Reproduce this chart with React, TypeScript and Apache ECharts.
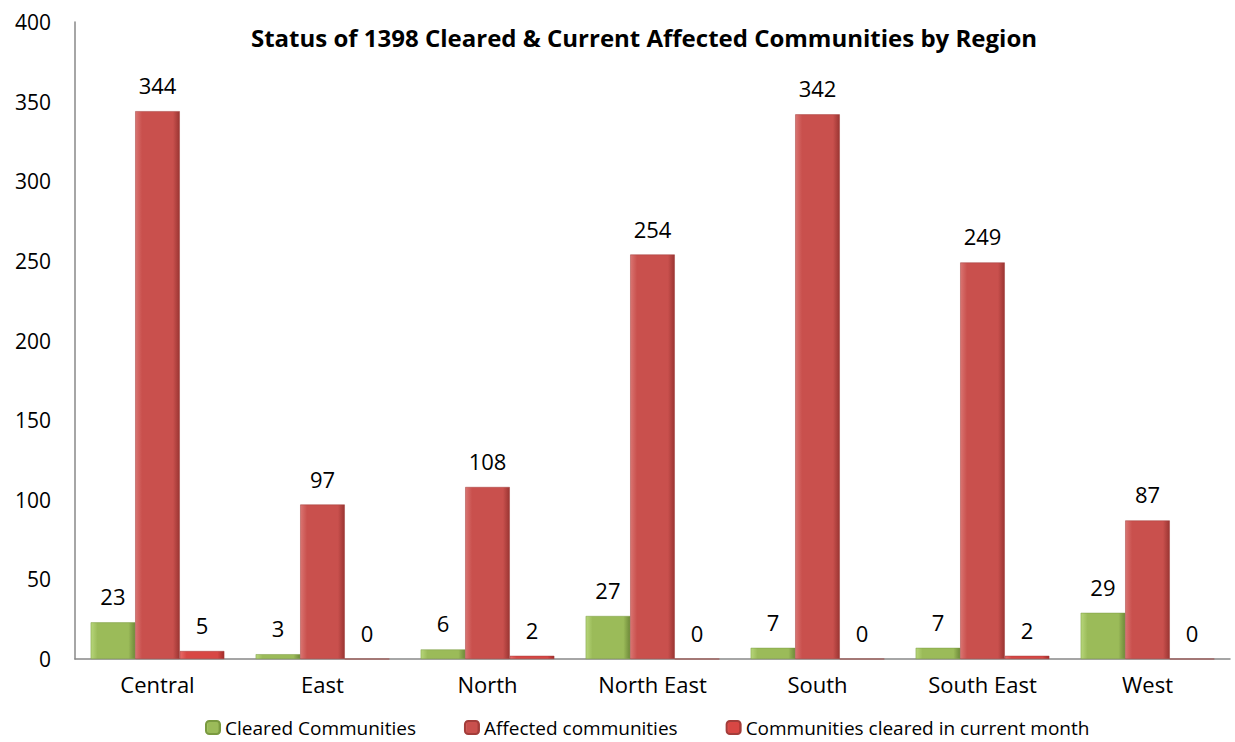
import React, { useEffect, useRef } from "react";
import * as echarts from "echarts";

const categories = ["Central", "East", "North", "North East", "South", "South East", "West"];
const cleared = [23, 3, 6, 27, 7, 7, 29];
const affected = [344, 97, 108, 254, 342, 249, 87];
const clearedMonth = [5, 0, 2, 0, 0, 2, 0];
const seriesNames = ["Cleared Communities", "Affected communities", "Communities cleared in current month"];

const FONT = "'Open Sans', 'Noto Sans', sans-serif";

function grad(top: string, mid: string, bottom: string) {
  return new echarts.graphic.LinearGradient(0, 0, 1, 0, [
    { offset: 0, color: top },
    { offset: 0.15, color: mid },
    { offset: 0.85, color: mid },
    { offset: 1, color: bottom },
  ]);
}

export default function App() {
  const ref = useRef<HTMLDivElement>(null);
  useEffect(() => {
    document.body.style.margin = "0";
    const chart = echarts.init(ref.current!, null, { renderer: "svg" });
    const label = {
      show: true,
      position: "top" as const,
      distance: 15,
      fontSize: 22,
      fontFamily: FONT,
      color: "#000",
    };
    chart.setOption({
      animation: false,
      title: {
        text: "Status of 1398 Cleared & Current Affected Communities by Region",
        left: 639,
        top: 20,
        textAlign: "center",
        textStyle: { fontSize: 24, fontWeight: "bold", fontFamily: FONT, color: "#000" },
      },
      legend: {
        bottom: 0,
        left: 200,
        itemWidth: 14,
        itemHeight: 13,
        itemGap: 48,
        textStyle: { fontSize: 19, fontFamily: FONT, color: "#000" },
        data: seriesNames,
      },
      grid: { left: 75, right: 5, top: 22, bottom: 83, containLabel: false },
      xAxis: {
        type: "category",
        data: categories,
        axisLine: { lineStyle: { color: "#888", width: 1.5 } },
        axisTick: { show: false },
        axisLabel: { fontSize: 22, fontFamily: FONT, color: "#000", margin: 14 },
      },
      yAxis: {
        type: "value",
        min: 0,
        max: 400,
        interval: 50,
        axisLine: { show: true, lineStyle: { color: "#888", width: 1.5 } },
        axisTick: { show: false },
        splitLine: { show: false },
        axisLabel: { fontSize: 21, fontFamily: FONT, color: "#000", margin: 24 },
      },
      series: [
        {
          name: seriesNames[0],
          type: "bar",
          data: cleared,
          barGap: "0%",
          barCategoryGap: "19%",
          itemStyle: { color: grad("#b7d67a", "#9bbb59", "#6f8a3a"), borderColor: "#7a9a40", borderWidth: 0.5 },
          label,
        },
        {
          name: seriesNames[1],
          type: "bar",
          data: affected,
          itemStyle: { color: grad("#d97471", "#c9504d", "#9a3532"), borderColor: "#a33d3a", borderWidth: 0.5 },
          label,
        },
        {
          name: seriesNames[2],
          type: "bar",
          data: clearedMonth,
          itemStyle: { color: grad("#e86a67", "#d84744", "#a22c2a"), borderColor: "#a33d3a", borderWidth: 0.5 },
          label,
        },
      ],
    });
    return () => chart.dispose();
  }, []);
  return <div ref={ref} style={{ width: 1235, height: 742 }} />;
}
